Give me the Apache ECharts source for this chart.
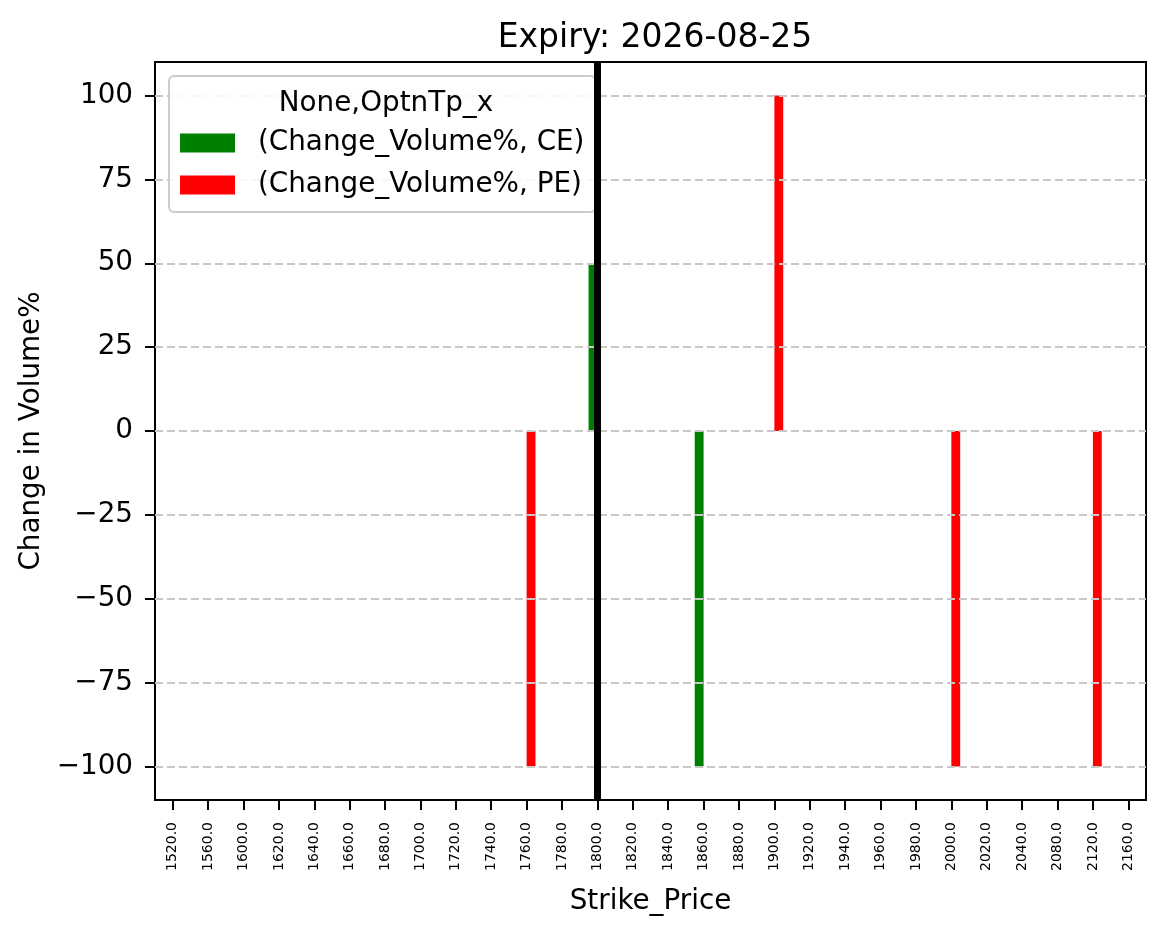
<!DOCTYPE html>
<html>
<head>
<meta charset="utf-8">
<script src="https://cdn.jsdelivr.net/npm/echarts@6/dist/echarts.min.js"></script>
<style>
  html, body { margin: 0; padding: 0; background: #fff; }
  #chart { width: 1166px; height: 939px; }
</style>
</head>
<body>
<div id="chart"></div>
<script>
// --- data ---
const strikes = ['1520.0', '1560.0', '1600.0', '1620.0', '1640.0', '1660.0', '1680.0',
  '1700.0', '1720.0', '1740.0', '1760.0', '1780.0', '1800.0', '1820.0', '1840.0',
  '1860.0', '1880.0', '1900.0', '1920.0', '1940.0', '1960.0', '1980.0', '2000.0',
  '2020.0', '2040.0', '2080.0', '2120.0', '2160.0'];

const ceChange = [null, null, null, null, null, null, null, null, null, null, null, null, 50,
  null, null, -100, null, null, null, null, null, null, null, null, null, null, null, null];

const peChange = [null, null, null, null, null, null, null, null, null, null, -100, null, null,
  null, null, null, null, 100, null, null, null, null, -100, null, null, null, -100, null];

const yTicks = [-100, -75, -50, -25, 0, 25, 50, 75, 100];
const spotStrike = '1800.0';

const seriesNames = ['(Change_Volume%, CE)', '(Change_Volume%, PE)'];
const FONT = 'DejaVu Sans';

const chart = echarts.init(document.getElementById('chart'), null, { renderer: 'canvas' });

const minusFmt = v => String(v).replace('-', '\u2212');

chart.setOption({
  backgroundColor: '#fff',
  animation: false,
  textStyle: { fontFamily: FONT, color: '#000' },
  title: [
    {
      text: 'Expiry: 2026-08-25',
      left: 650, top: 17, textAlign: 'center',
      textStyle: { fontFamily: FONT, fontSize: 33, fontWeight: 'normal', color: '#000', lineHeight: 33 },
    },
    {
      text: 'None,OptnTp_x',
      left: 381, top: 85, textAlign: 'center', z: 10,
      textStyle: { fontFamily: FONT, fontSize: 27.8, fontWeight: 'normal', color: '#000', lineHeight: 28 },
    },
  ],
  legend: {
    data: seriesNames,
    orient: 'vertical',
    left: 169, top: 76,
    padding: [53, 11, 13, 11],
    itemWidth: 55, itemHeight: 19,
    itemGap: 14,
    icon: 'rect',
    backgroundColor: 'rgba(255,255,255,0.85)',
    borderColor: '#cccccc',
    borderWidth: 2,
    borderRadius: 5,
    textStyle: { fontFamily: FONT, fontSize: 27.8, color: '#000', lineHeight: 28, padding: [0, 0, 0, 18] },
  },
  grid: {
    left: 155, right: 20, top: 62, bottom: 139,
    show: true, borderColor: '#000', borderWidth: 2, backgroundColor: 'transparent',
  },
  xAxis: {
    type: 'category',
    data: strikes,
    boundaryGap: true,
    name: 'Strike_Price',
    nameLocation: 'middle',
    nameGap: 88,
    nameTextStyle: { fontFamily: FONT, fontSize: 27.8, color: '#000' },
    axisLine: { show: true, onZero: false, lineStyle: { color: '#000', width: 2 } },
    axisTick: { show: true, alignWithLabel: true, interval: 0, length: 10, lineStyle: { color: '#000', width: 2 } },
    axisLabel: { interval: 0, rotate: 90, margin: 22, fontFamily: FONT, fontSize: 14, color: '#000' },
    splitLine: { show: false },
  },
  yAxis: {
    type: 'value',
    min: -110, max: 110,
    name: 'Change in Volume%',
    nameLocation: 'middle',
    nameGap: 106,
    nameTextStyle: { fontFamily: FONT, fontSize: 27.8, color: '#000' },
    axisLine: { show: true, lineStyle: { color: '#000', width: 2 } },
    axisTick: { show: true, customValues: yTicks, length: 10, lineStyle: { color: '#000', width: 2 } },
    axisLabel: { customValues: yTicks, margin: 22, fontFamily: FONT, fontSize: 27.8, color: '#000', formatter: minusFmt },
    splitLine: { show: false },
  },
  series: [
    {
      // gridlines at the y ticks
      type: 'line', data: [], silent: true, z: 1,
      markLine: {
        silent: true, symbol: 'none', z: 3,
        label: { show: false },
        lineStyle: { color: '#c8c8c8', width: 2, type: [8, 4] },
        data: yTicks.map(v => ({ yAxis: v })),
      },
    },
    {
      name: seriesNames[0],
      type: 'bar',
      data: ceChange,
      barWidth: '25%',
      barGap: '0%',
      itemStyle: { color: '#008000' },
      z: 2,
    },
    {
      name: seriesNames[1],
      type: 'bar',
      data: peChange,
      barWidth: '25%',
      barGap: '0%',
      itemStyle: { color: '#ff0000' },
      z: 2,
    },
    {
      // spot strike line
      type: 'line', data: [], silent: true, z: 8,
      markLine: {
        silent: true, symbol: 'none', z: 8,
        label: { show: false },
        lineStyle: { color: '#000', width: 7, type: 'solid' },
        data: [{ xAxis: spotStrike }],
      },
    },
  ],
});
</script>
</body>
</html>
